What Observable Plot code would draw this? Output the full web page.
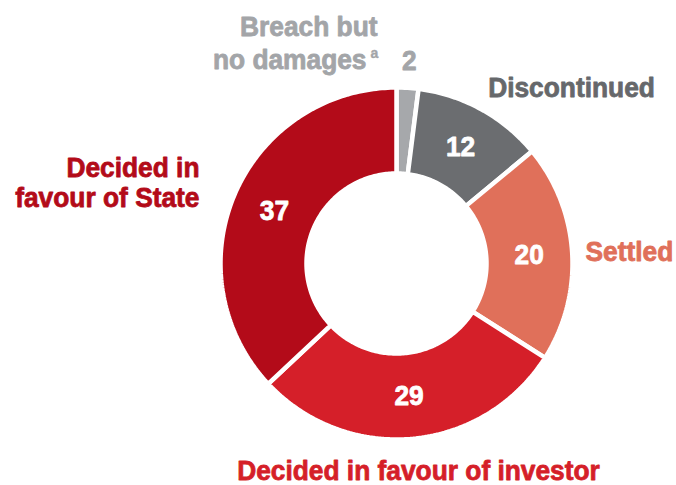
<!DOCTYPE html>
<html>
<head>
<meta charset="utf-8">
<script src="https://cdn.jsdelivr.net/npm/d3@7"></script>
<script src="https://cdn.jsdelivr.net/npm/@observablehq/plot@0.6"></script>
<style>
  html, body { margin: 0; padding: 0; background: #fff; }
  svg { display: block; }
</style>
</head>
<body>
<div id="chart"></div>
<script>
const categories = ["Breach but no damages", "Discontinued", "Settled", "Decided in favour of investor", "Decided in favour of State"];
const values = [2, 12, 20, 29, 37];
const colors = ["#a6a8ab", "#6b6d70", "#e0705a", "#d51f29", "#b30b19"];
const labelColors = ["#a3a5a8", "#66686b", "#e0705a", "#d51f29", "#b30b19"];

// layout (pixel units, center of donut at 0,0; y up)
const W = 676, H = 485, CX = 396, CY = 263;
const R_OUT = 176, R_IN = 90, R_MID = 133, R_OUTSIDE = 203;
const font = "'Liberation Sans', Arial, sans-serif";
const FS = 28;
const CONDENSE = 0.94;

const pie = d3.pie().sort(null).value(d => d.value)(categories.map((c, i) => ({name: c, value: values[i], color: colors[i]})));

// polygon points for each slice
const pts = [];
for (const s of pie) {
  const n = Math.max(4, Math.ceil((s.endAngle - s.startAngle) * 60));
  for (let k = 0; k <= n; k++) {
    const a = s.startAngle + (s.endAngle - s.startAngle) * k / n;
    pts.push({name: s.data.name, color: s.data.color, x: R_OUT * Math.sin(a), y: R_OUT * Math.cos(a)});
  }
  for (let k = n; k >= 0; k--) {
    const a = s.startAngle + (s.endAngle - s.startAngle) * k / n;
    pts.push({name: s.data.name, color: s.data.color, x: R_IN * Math.sin(a), y: R_IN * Math.cos(a)});
  }
}

// value labels at centroids
const valueLabels = pie.map((s, i) => {
  const a = (s.startAngle + s.endAngle) / 2;
  const r = i === 0 ? R_OUTSIDE : R_MID;
  return {x: r * Math.sin(a), y: r * Math.cos(a), text: String(s.data.value), fill: i === 0 ? labelColors[0] : "#ffffff"};
});

const P = (px, py) => ({x: px - CX, y: CY - py});
const endLabels = [
  {...P(377, 27), text: "Breach but", fill: labelColors[0]},
  {...P(366, 60), text: "no damages", fill: labelColors[0]},
  {...P(199, 168), text: "Decided in", fill: labelColors[4]},
  {...P(199, 198), text: "favour of State", fill: labelColors[4]}
];
const midLabels = [
  {...P(571, 88), text: "Discontinued", fill: labelColors[1]},
  {...P(418, 471), text: "Decided in favour of investor", fill: labelColors[3]}
];
const startLabels = [
  {...P(585, 252), text: "Settled", fill: labelColors[2]}
];
const supLabels = [
  {...P(370, 53), text: "a", fill: labelColors[0]}
];

const textOpts = {x: "x", y: "y", text: "text", fill: "fill", stroke: "fill", strokeWidth: 0.8, fontSize: FS, fontWeight: "bold"};

const chart = Plot.plot({
  width: W,
  height: H,
  margin: 0,
  x: {domain: [-CX, W - CX], axis: null},
  y: {domain: [CY - H, CY], axis: null},
  color: {type: "identity"},
  style: {fontFamily: font, background: "#fff"},
  marks: [
    Plot.line(pts, {x: "x", y: "y", z: "name", fill: "color", stroke: "#ffffff", strokeWidth: 4.5, curve: "linear-closed", strokeLinejoin: "miter"}),
    Plot.text(valueLabels, textOpts),
    Plot.text(endLabels, {...textOpts, textAnchor: "end"}),
    Plot.text(midLabels, {...textOpts, textAnchor: "middle"}),
    Plot.text(startLabels, {...textOpts, textAnchor: "start"}),
    Plot.text(supLabels, {...textOpts, fontSize: 15, strokeWidth: 0.4, textAnchor: "start"})
  ]
});
document.getElementById("chart").appendChild(chart);
// condensed type: compress glyphs horizontally
chart.querySelectorAll("text").forEach(t => {
  const len = t.getComputedTextLength();
  if (len > 0) {
    t.setAttribute("textLength", (len * CONDENSE).toFixed(1));
    t.setAttribute("lengthAdjust", "spacingAndGlyphs");
  }
});
</script>
</body>
</html>
